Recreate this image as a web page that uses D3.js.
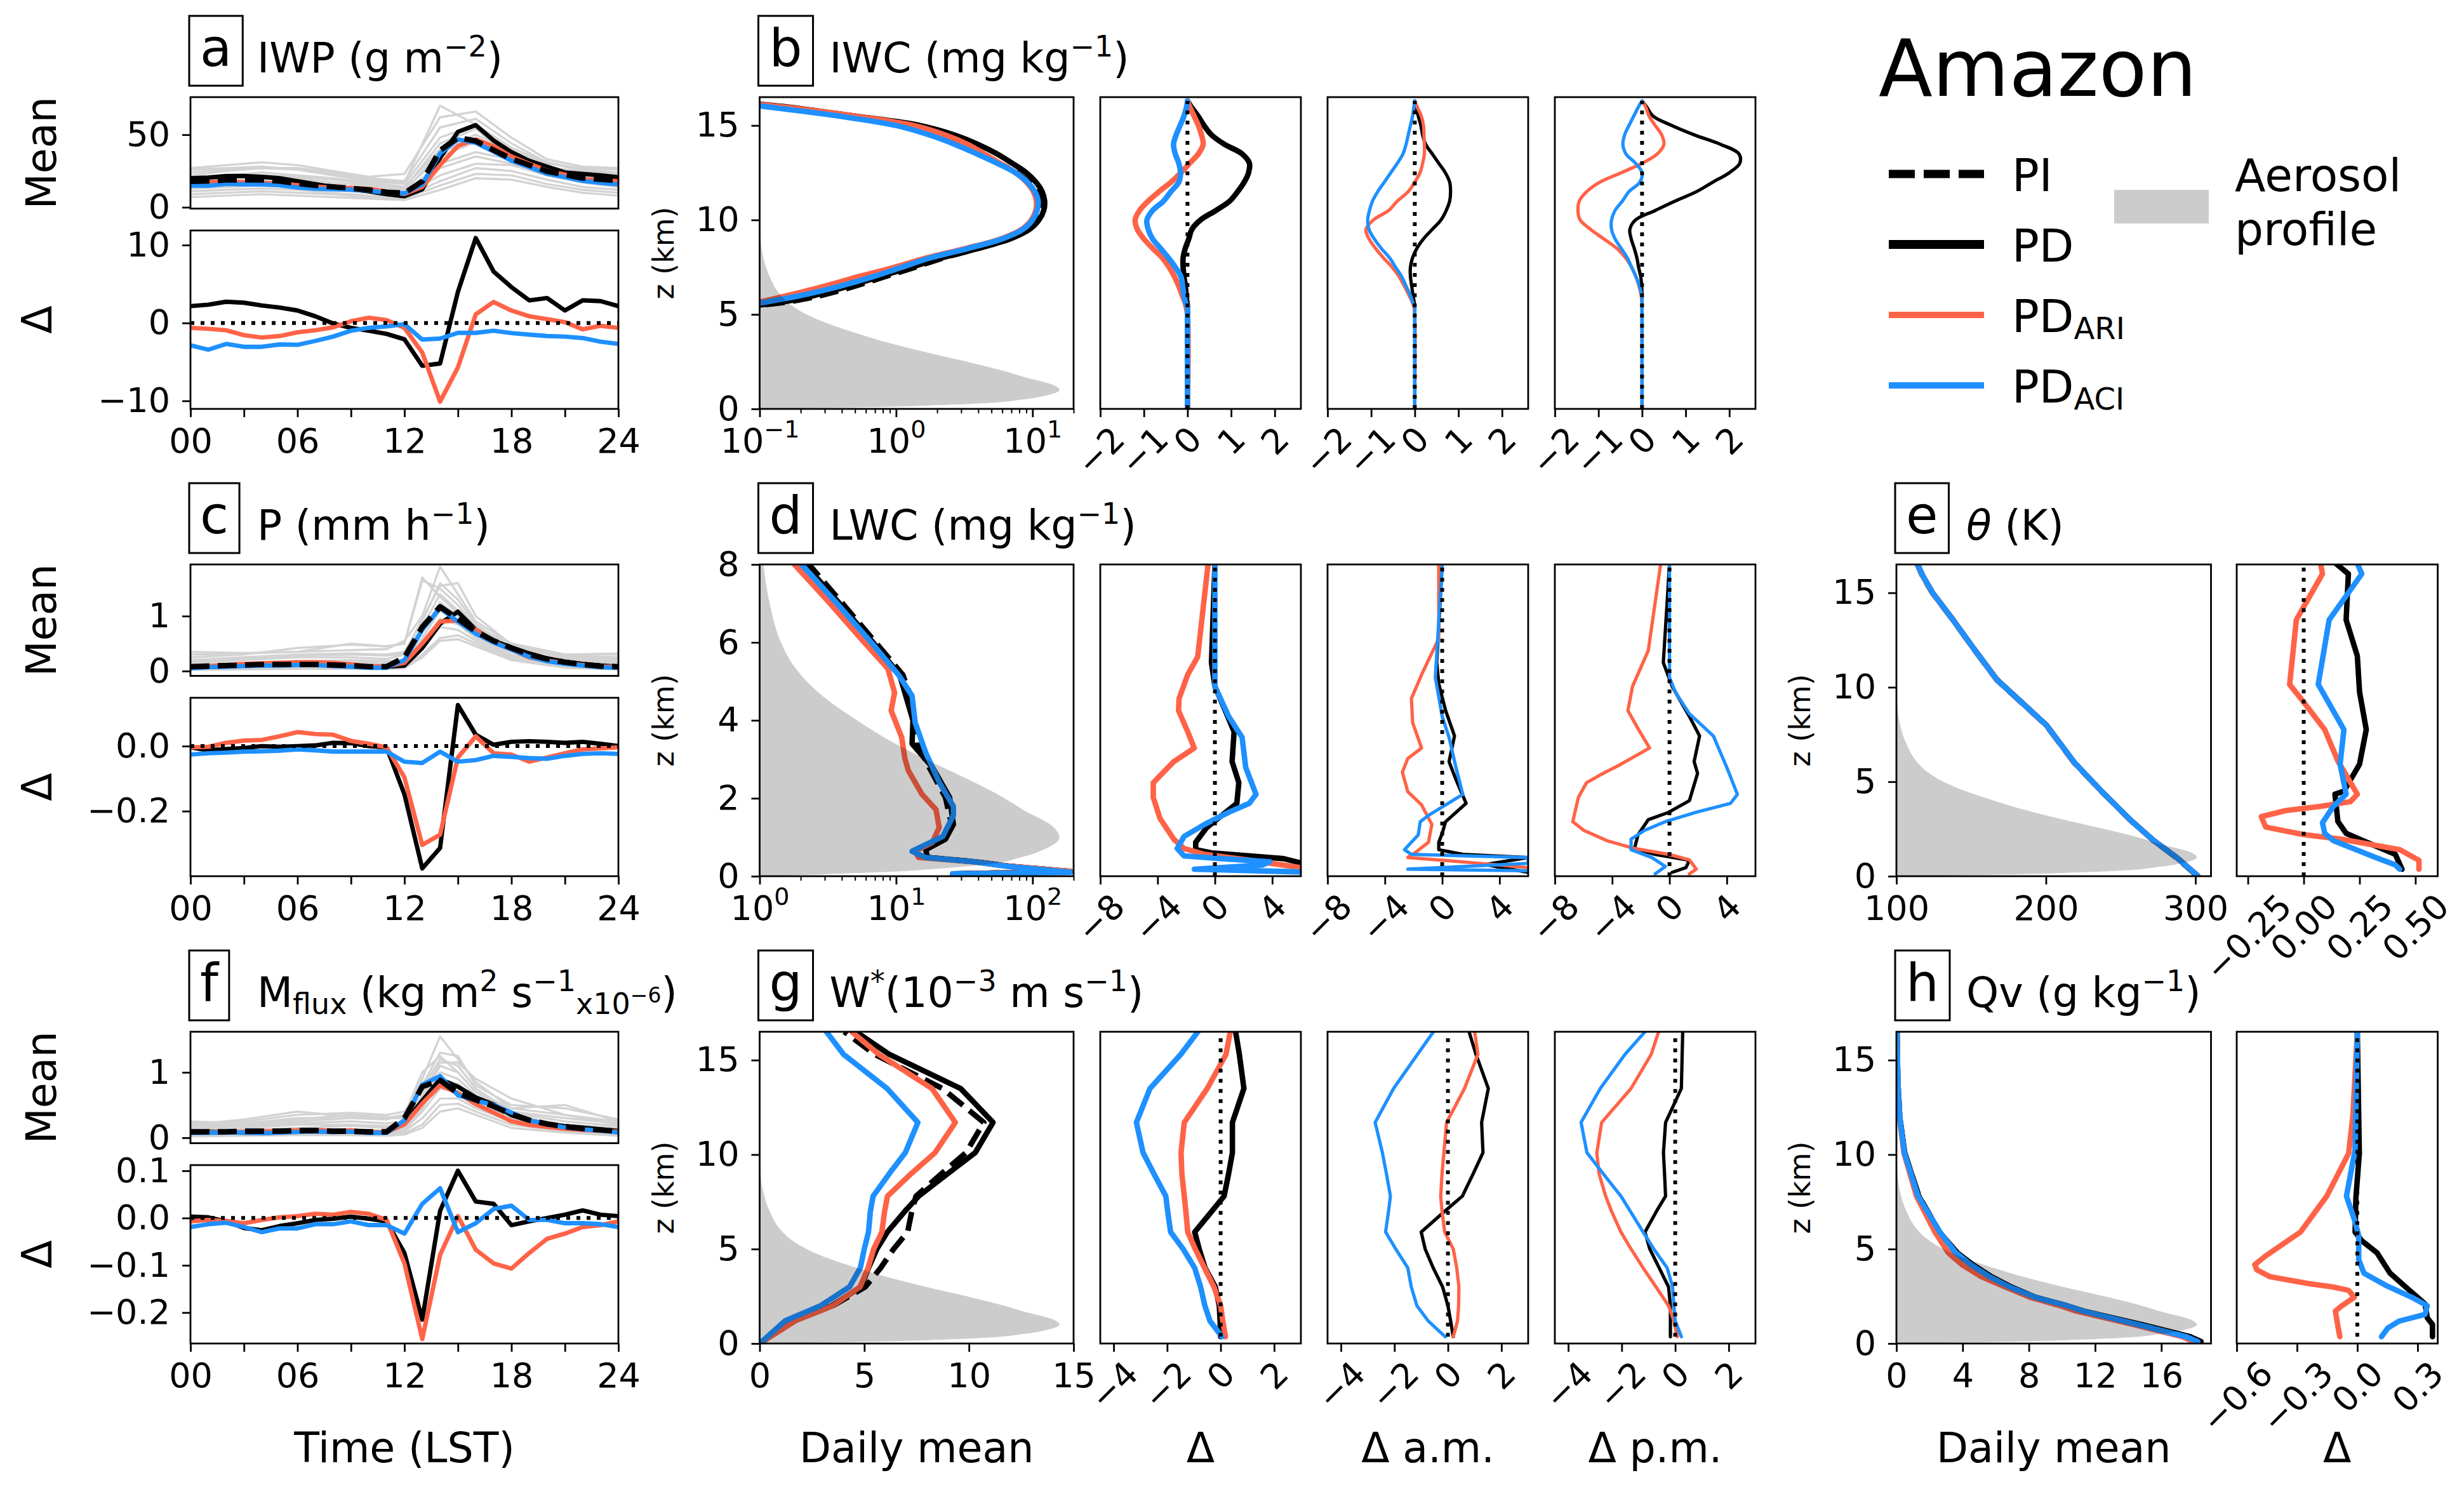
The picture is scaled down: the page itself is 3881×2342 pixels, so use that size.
<!DOCTYPE html>
<html><head><meta charset="utf-8">
<script src="https://cdn.jsdelivr.net/npm/d3@7"></script>
<style>
body{margin:0;background:#fff;}
svg text{font-family:'DejaVu Sans',sans-serif;fill:#000;}
</style></head><body>
<script>
// ---------------- DATA ----------------
const HOURS=[0,1,2,3,4,5,6,7,8,9,10,11,12,13,14,15,16,17,18,19,20,21,22,23,24];
const TIME_TICKS=[0,3,6,9,12,15,18,21,24];
const GREY_HOURS_A=[0,2,4,6,8,10,12,14,16,18,20,22,24];
const GREY_HOURS_CF=[0,3,6,9,11,12,13,14,15,16,18,21,24];

// (a) IWP
const IWP_PI=[17.8,18.2,18.8,18.9,18.8,18.0,16.4,15.1,14.1,13.1,12.0,10.4,9.7,17.9,39.2,48.0,45.7,39.4,33.4,29.1,24.8,22.4,20.1,19.2,18.5];
const IWP_PD=[20,20.5,21.5,21.5,21,20,18,16,14,12.5,11,9,7.6,12.4,34,52,56.6,46,38,32,28,24,23,22,20.7];
const IWP_ARI=[17.2,17.4,17.9,17.3,16.9,16.3,15.2,14.2,13.5,13.3,12.7,10.8,9.1,14.1,29.1,42.3,46.8,42.1,35.0,30.0,25.3,22.5,19.3,18.8,17.9];
const IWP_ACI=[14.9,14.8,16.1,15.8,15.7,15.2,13.6,12.8,12.4,12.1,11.4,10.0,9.6,15.8,37.2,46.7,44.4,38.4,32.1,27.6,23.1,20.7,18.2,16.8,15.8];
const IWP_D_PD=[2.16,2.35,2.72,2.6,2.24,1.98,1.6,0.86,-0.07,-0.63,-1.0,-1.4,-2.1,-5.5,-5.2,4.0,10.9,6.6,4.6,2.9,3.2,1.6,2.9,2.8,2.16];
const IWP_D_ARI=[-0.63,-0.75,-0.93,-1.57,-1.87,-1.68,-1.2,-0.93,-0.56,0.22,0.67,0.37,-0.63,-3.8,-10.1,-5.7,1.1,2.7,1.6,0.86,0.49,0.11,-0.82,-0.37,-0.63];
const IWP_D_ACI=[-2.87,-3.43,-2.69,-3.06,-3.06,-2.76,-2.8,-2.31,-1.75,-1.0,-0.63,-0.45,-0.15,-2.13,-2.0,-1.27,-1.27,-1.0,-1.3,-1.5,-1.68,-1.75,-1.94,-2.4,-2.69];
const IWP_MEMBERS=[
 [27,29,31,29,25,21,23,62,66,48,33,28,27],
 [24,26,27,27,24,20,18,55,61,44,31,26,24],
 [22,25,27,26,22,18,16,48,57,40,30,27,26],
 [21,22,24,22,20,17,14,40,50,39,28,24,22],
 [18,20,21,20,17,15,12,35,45,36,27,22,19],
 [17,18,19,18,15,12,10,30,38,33,28,24,20],
 [15,16,17,16,14,11,9,27,35,30,24,19,16],
 [13,14,15,15,12,10,8,22,30,29,22,17,14],
 [11,12,13,12,10,8,7,18,27,25,19,14,12],
 [9,10,11,10,9,7,6,15,23,22,16,12,10],
 [7,8,9,8,7,6,5,12,20,19,14,10,8],
 [26,27,28,26,23,19,17,70,57,41,31,25,23],
 [19,21,22,21,19,16,13,44,54,34,26,21,18],
 [14,16,18,17,15,13,11,38,47,31,22,18,15]];

// (c) P
const P_PI=[0.08,0.09,0.1,0.11,0.12,0.12,0.12,0.12,0.11,0.1,0.08,0.08,0.25,0.8,1.17,0.95,0.72,0.55,0.42,0.3,0.22,0.16,0.12,0.09,0.08];
const P_PD=[0.08,0.08,0.09,0.1,0.12,0.12,0.12,0.12,0.12,0.11,0.08,0.08,0.1,0.42,0.86,1.08,0.75,0.55,0.43,0.32,0.23,0.17,0.13,0.1,0.08];
const P_ARI=[0.08,0.09,0.11,0.13,0.14,0.15,0.16,0.16,0.15,0.12,0.09,0.08,0.15,0.5,0.9,0.92,0.75,0.53,0.39,0.25,0.19,0.14,0.11,0.08,0.08];
const P_ACI=[0.05,0.07,0.08,0.09,0.1,0.1,0.11,0.11,0.09,0.08,0.06,0.06,0.2,0.75,1.15,0.9,0.68,0.52,0.39,0.26,0.18,0.13,0.1,0.07,0.06];
const P_D_PD=[-0.004,-0.013,-0.009,-0.006,0,-0.002,0,0.002,0.01,0.009,0,-0.004,-0.148,-0.376,-0.313,0.126,0.035,0.004,0.013,0.015,0.013,0.01,0.013,0.007,0];
const P_D_ARI=[-0.004,-0.002,0.01,0.017,0.019,0.03,0.043,0.037,0.035,0.016,0.007,-0.004,-0.096,-0.304,-0.272,-0.035,0.03,-0.022,-0.026,-0.048,-0.035,-0.022,-0.01,-0.007,-0.004];
const P_D_ACI=[-0.026,-0.022,-0.02,-0.017,-0.016,-0.014,-0.01,-0.013,-0.017,-0.017,-0.017,-0.017,-0.048,-0.052,-0.017,-0.048,-0.043,-0.03,-0.033,-0.037,-0.039,-0.03,-0.024,-0.022,-0.024];
const P_MEMBERS=[
 [0.3,0.32,0.35,0.38,0.4,0.55,1.0,1.9,1.4,0.9,0.5,0.3,0.3],
 [0.25,0.3,0.42,0.48,0.45,0.5,1.65,1.5,1.2,0.8,0.45,0.28,0.25],
 [0.2,0.25,0.3,0.32,0.3,0.35,0.9,1.6,1.3,0.85,0.42,0.25,0.22],
 [0.15,0.2,0.25,0.25,0.22,0.3,0.8,1.4,1.1,0.75,0.38,0.2,0.18],
 [0.12,0.15,0.18,0.2,0.18,0.2,0.7,1.25,1.0,0.7,0.35,0.18,0.15],
 [0.1,0.12,0.15,0.16,0.14,0.15,0.6,1.1,0.9,0.65,0.3,0.15,0.12],
 [0.08,0.1,0.12,0.12,0.1,0.12,0.5,0.95,0.85,0.6,0.28,0.12,0.1],
 [0.05,0.07,0.08,0.09,0.08,0.1,0.4,0.8,0.75,0.55,0.25,0.1,0.07],
 [0.03,0.05,0.06,0.06,0.05,0.08,0.3,0.6,0.65,0.5,0.22,0.08,0.05],
 [0.02,0.03,0.04,0.04,0.04,0.05,0.25,0.55,0.58,0.45,0.2,0.06,0.03],
 [0.35,0.33,0.35,0.5,0.45,0.5,1.7,1.35,1.05,0.8,0.5,0.3,0.32],
 [0.18,0.22,0.28,0.3,0.28,0.32,0.95,1.55,1.6,1.0,0.48,0.22,0.2]];

// (f) Mflux
const M_PI=[0.09,0.09,0.09,0.1,0.1,0.1,0.11,0.11,0.1,0.1,0.09,0.09,0.3,0.78,0.88,0.68,0.58,0.48,0.36,0.27,0.21,0.17,0.14,0.12,0.1];
const M_PD=[0.093,0.092,0.083,0.079,0.074,0.083,0.099,0.106,0.099,0.103,0.088,0.083,0.226,0.565,0.895,0.78,0.615,0.51,0.345,0.263,0.21,0.177,0.156,0.127,0.104];
const M_ARI=[0.083,0.086,0.084,0.089,0.096,0.102,0.114,0.119,0.107,0.113,0.086,0.086,0.204,0.524,0.802,0.684,0.513,0.384,0.253,0.196,0.166,0.137,0.121,0.105,0.093];
const M_ACI=[0.071,0.077,0.08,0.081,0.07,0.078,0.088,0.097,0.087,0.093,0.075,0.075,0.267,0.81,0.943,0.65,0.569,0.499,0.386,0.266,0.206,0.159,0.129,0.107,0.081];
const M_D_PD=[0.003,0.0015,-0.007,-0.021,-0.026,-0.017,-0.011,-0.004,-0.0015,0.003,-0.0015,-0.007,-0.074,-0.215,0.015,0.1,0.035,0.03,-0.015,-0.007,0,0.007,0.016,0.007,0.004];
const M_D_ARI=[-0.007,-0.004,-0.006,-0.011,-0.004,0.0015,0.004,0.009,0.007,0.013,0.009,-0.004,-0.096,-0.256,-0.078,0.004,-0.067,-0.096,-0.107,-0.074,-0.044,-0.033,-0.019,-0.015,-0.007];
const M_D_ACI=[-0.019,-0.013,-0.01,-0.019,-0.03,-0.022,-0.022,-0.013,-0.013,-0.007,-0.015,-0.015,-0.033,0.03,0.063,-0.03,-0.011,0.019,0.026,-0.004,-0.004,-0.011,-0.011,-0.013,-0.019];
const M_MEMBERS=[
 [0.25,0.22,0.3,0.3,0.28,0.35,0.9,1.55,1.2,0.85,0.45,0.35,0.25],
 [0.22,0.25,0.35,0.38,0.35,0.4,0.8,1.3,1.25,0.8,0.5,0.45,0.28],
 [0.2,0.28,0.4,0.32,0.3,0.3,0.75,1.2,1.1,0.75,0.4,0.3,0.22],
 [0.15,0.18,0.22,0.25,0.22,0.25,0.6,1.1,1.0,0.7,0.38,0.25,0.18],
 [0.12,0.15,0.2,0.2,0.18,0.2,0.55,1.0,0.9,0.65,0.35,0.2,0.15],
 [0.1,0.12,0.15,0.18,0.15,0.15,0.45,0.9,0.82,0.6,0.3,0.18,0.12],
 [0.08,0.1,0.12,0.12,0.1,0.12,0.4,0.75,0.7,0.55,0.28,0.15,0.1],
 [0.05,0.07,0.08,0.1,0.08,0.1,0.3,0.6,0.6,0.45,0.25,0.12,0.08],
 [0.03,0.05,0.05,0.06,0.05,0.07,0.2,0.5,0.52,0.4,0.2,0.1,0.05],
 [0.02,0.03,0.04,0.04,0.03,0.05,0.15,0.4,0.45,0.35,0.15,0.08,0.03],
 [0.2,0.2,0.25,0.3,0.3,0.35,1.0,1.25,1.0,0.7,0.45,0.5,0.25],
 [0.18,0.2,0.28,0.35,0.32,0.3,0.65,1.15,1.15,0.9,0.6,0.35,0.2]];

// aerosol profile (fraction of panel width)
const AEROSOL_Z=[0,0.05,0.1,0.2,0.3,0.5,0.7,1.0,1.3,1.7,2.0,2.5,3.0,3.5,4.0,4.5,5.0,5.5,6.0,7.0,8.0,9.0,10.0];
const AEROSOL_FRAC=[0,0.2,0.38,0.58,0.72,0.84,0.91,0.955,0.93,0.84,0.78,0.66,0.53,0.41,0.31,0.22,0.15,0.1,0.068,0.032,0.012,0.003,0];

// (b) IWC
const IWC_Z=[5.4,5.6,6.0,6.5,7.0,7.5,8.0,8.5,9.0,9.5,10.0,10.5,11.0,11.5,12.0,12.5,13.0,13.5,14.0,14.5,15.0,15.5,16.0,16.3];
const IWC_PI=[0.07,0.14,0.28,0.5,0.83,1.38,2.24,4.02,6.8,9.4,10.92,11.6,11.55,10.78,9.4,7.65,5.7,4.18,2.98,1.97,1.15,0.45,0.13,0.05];
const IWC_PD=[0.07,0.13,0.25,0.45,0.76,1.29,2.17,4.02,6.84,9.49,11.14,12.08,12.27,11.76,10.6,9.0,7.09,5.48,3.98,2.67,1.5,0.5,0.15,0.05];
const IWC_ARI=[0.04,0.09,0.16,0.3,0.53,0.98,1.69,3.27,5.87,8.32,9.8,10.56,10.67,10.15,9.03,7.5,5.75,4.43,3.34,2.29,1.35,0.5,0.14,0.05];
const IWC_ACI=[0.07,0.1,0.2,0.39,0.68,1.1,1.8,3.4,6.0,8.5,10.0,10.8,11.0,10.4,9.2,7.5,5.5,3.9,2.7,1.75,1.0,0.38,0.11,0.05];
const IWC_DZ=[0,5.0,5.4,5.6,6.0,6.5,7.0,7.5,8.0,8.5,9.0,9.5,10.0,10.5,11.0,11.5,12.0,12.5,13.0,13.5,14.0,14.5,15.0,15.5,16.0,16.3];
const IWC_D_PD=[0,0,0,-0.01,-0.03,-0.05,-0.08,-0.1,-0.1,-0.05,0.03,0.1,0.3,0.65,0.97,1.15,1.3,1.4,1.42,1.25,0.85,0.55,0.38,0.24,0.08,0];
const IWC_D_ARI=[0,0,-0.03,-0.05,-0.12,-0.2,-0.3,-0.42,-0.58,-0.8,-1.0,-1.15,-1.2,-1.1,-0.9,-0.65,-0.38,-0.15,0.05,0.25,0.36,0.32,0.25,0.15,0.05,0];
const IWC_D_ACI=[0,0,0,-0.04,-0.08,-0.11,-0.15,-0.28,-0.44,-0.62,-0.8,-0.9,-0.93,-0.8,-0.55,-0.38,-0.2,-0.16,-0.2,-0.28,-0.32,-0.26,-0.17,-0.08,-0.02,0];
const IWC_AM_PD=[0,0,0,-0.01,-0.04,-0.07,-0.1,-0.1,-0.05,0.05,0.2,0.4,0.6,0.72,0.8,0.82,0.8,0.7,0.55,0.4,0.25,0.18,0.14,0.08,0.03,0];
const IWC_AM_ARI=[0,0,-0.02,-0.05,-0.13,-0.24,-0.36,-0.52,-0.72,-0.9,-1.05,-1.12,-0.95,-0.6,-0.4,-0.15,0.0,0.12,0.18,0.22,0.22,0.21,0.2,0.15,0.05,0];
const IWC_AM_ACI=[0,0,0,-0.04,-0.1,-0.2,-0.3,-0.44,-0.58,-0.77,-0.93,-1.05,-1.08,-1.04,-0.97,-0.85,-0.7,-0.55,-0.4,-0.27,-0.2,-0.15,-0.1,-0.05,-0.02,0];
const IWC_PM_PD=[0,0,0,0,0,-0.01,-0.03,-0.08,-0.12,-0.18,-0.25,-0.28,-0.15,0.3,0.76,1.25,1.62,2.0,2.24,2.22,1.8,1.2,0.68,0.25,0.1,0];
const IWC_PM_ARI=[0,0,0,0,-0.02,-0.07,-0.14,-0.24,-0.38,-0.58,-0.88,-1.18,-1.42,-1.47,-1.44,-1.27,-0.97,-0.48,0.0,0.35,0.5,0.45,0.3,0.16,0.08,0];
const IWC_PM_ACI=[0,0,0,0,-0.01,-0.06,-0.14,-0.24,-0.34,-0.48,-0.62,-0.7,-0.7,-0.62,-0.45,-0.3,-0.05,0.0,-0.15,-0.37,-0.44,-0.4,-0.3,-0.19,-0.08,0];

// (d) LWC  [z (km), value]
const LWC_PI=[[0.06,26],[0.12,190],[0.25,70],[0.37,38],[0.48,17],[0.68,15.5],[0.95,22],[1.33,25.5],[2.02,23],[2.79,17.5],[3.4,14.2],[4.0,13.6],[4.71,12.5],[5.17,11.2],[6.02,7.0],[7.02,4.0],[8.0,2.3]];
const LWC_PD=[[0.06,26],[0.12,190],[0.25,70],[0.37,38],[0.48,17],[0.68,16.5],[0.95,23],[1.33,26.3],[2.02,24.7],[2.79,18.5],[3.4,13.1],[4.0,13.3],[4.71,11.6],[5.17,10.6],[6.02,6.7],[7.02,3.8],[8.0,2.15]];
const LWC_ARI=[[0.06,30],[0.12,190],[0.25,70],[0.37,37],[0.48,14.6],[0.64,13.8],[0.87,18.5],[1.25,20.7],[1.71,19.6],[2.1,15.5],[2.71,12.3],[3.02,11.6],[3.56,11],[4.25,9.2],[4.71,9.75],[5.33,8.7],[6.02,5.78],[7.02,3.24],[8.0,1.8]];
const LWC_ACI=[[0.06,26],[0.1,190],[0.25,66.8],[0.37,37.3],[0.48,16.5],[0.64,13.1],[1.02,22],[1.56,26.3],[1.79,26.3],[2.4,20.8],[3.17,16.5],[3.94,13.8],[4.63,13.1],[5.17,10.4],[6.02,6.5],[7.02,3.64],[8.0,2.03]];
const LWC_D_PD=[[0.1,8],[0.25,7],[0.45,4.8],[0.6,-0.24],[0.68,-1.34],[0.87,-1.34],[1.25,-0.57],[1.56,0.48],[1.87,1.53],[2.4,1.67],[2.94,1.2],[3.71,1.34],[4.25,0.72],[4.87,0],[5.48,-0.24],[8.0,0]];
const LWC_D_ARI=[[0.1,9],[0.22,6],[0.41,2.4],[0.56,-0.72],[0.71,-2.15],[0.95,-2.87],[1.48,-3.83],[2.02,-4.3],[2.4,-4.3],[2.94,-2.87],[3.29,-1.44],[3.71,-1.9],[4.25,-2.54],[4.56,-2.5],[5.17,-1.9],[5.63,-1.2],[8.0,-0.48]];
const LWC_D_ACI=[[0.1,7],[0.18,-1.44],[0.29,3.35],[0.37,3.83],[0.45,0.48],[0.52,-2.15],[0.71,-2.63],[1.02,-2.15],[1.33,-0.72],[1.64,0.96],[1.87,2.4],[2.1,2.87],[2.79,2.15],[3.56,1.9],[4.1,0.96],[4.87,0],[8.0,0]];
const LWC_AM_PD=[[0.1,6],[0.3,3],[0.48,6],[0.56,1.44],[0.68,-0.24],[0.87,-0.24],[1.1,0],[1.4,0.24],[1.87,1.67],[2.48,0.96],[2.94,0.48],[3.6,0.86],[4.25,0.24],[4.94,-0.24],[5.48,-0.38],[8.0,0]];
const LWC_AM_ARI=[[0.1,8],[0.22,6],[0.35,2],[0.48,-2.4],[0.6,-1.9],[0.87,-0.96],[1.33,-0.72],[1.83,-1.44],[2.17,-2.4],[2.67,-2.78],[3.02,-2.4],[3.29,-1.44],[3.94,-2.06],[4.56,-2.15],[5.17,-1.44],[6.1,-0.24],[8.0,-0.24]];
const LWC_AM_ACI=[[0.14,6],[0.18,-2.4],[0.33,6],[0.48,6],[0.56,-2.15],[0.68,-2.63],[0.87,-2.15],[1.06,-1.67],[1.4,-1.53],[1.56,-0.96],[1.83,0.24],[2.1,1.44],[2.79,0.96],[3.56,0.48],[4.1,0],[5.1,-0.48],[8.0,0]];
const LWC_PM_PD=[[0.1,0.19],[0.22,1.15],[0.41,1.39],[0.56,-1.0],[0.71,-2.44],[1.06,-2.2],[1.45,-1.48],[1.64,-0.05],[1.94,1.39],[2.64,1.96],[2.94,1.72],[3.6,2.1],[4.1,1.39],[4.87,0.19],[5.48,-0.43],[8.0,0]];
const LWC_PM_ARI=[[0.06,1.39],[0.18,1.87],[0.42,1.39],[0.56,-0.05],[0.71,-2.44],[0.91,-4.35],[1.18,-6.0],[1.4,-6.75],[2.02,-6.36],[2.4,-5.79],[2.6,-4.83],[2.87,-3.4],[3.29,-1.39],[3.79,-2.2],[4.25,-2.9],[4.87,-2.58],[5.79,-1.48],[8.0,-0.62]];
const LWC_PM_ACI=[[0.06,-1.0],[0.25,-0.29],[0.48,-1.24],[0.68,-2.68],[0.95,-2.68],[1.18,-1.72],[1.4,-0.29],[1.64,1.87],[1.87,4.26],[2.1,4.74],[2.79,4.0],[3.6,3.06],[4.17,1.39],[4.71,0.43],[5.1,0],[8.0,0]];

// (e) theta
const TH_Z=[0.03,1.0,1.88,3.0,4.5,6.0,8.0,10.4,12.0,13.57,15.0,15.96,16.56];
const TH_PI=[301,287,272,256,237,219,200,167,152,137.7,124,117,113.7];
const TH_PD=[301.4,287.3,272.2,256.2,237.2,219.2,200.3,167.3,152.2,137.9,124.2,117.2,113.9];
const TH_ARI=[301.5,287.4,272.1,255.9,237.2,219.1,200.1,167,152,137.7,124.1,117.1,113.8];
const TH_ACI=[301.4,287.3,272.1,256.1,237.2,219.2,200.2,167.1,152.1,137.8,124.2,117.2,113.9];
const TH_D_PD=[[0.37,0.44],[1.16,0.41],[1.96,0.25],[2.27,0.19],[2.9,0.153],[4.34,0.14],[4.5,0.18],[5.93,0.25],[7.76,0.28],[9.75,0.25],[11.66,0.24],[13.57,0.19],[16.0,0.2],[16.56,0.143]];
const TH_D_ARI=[[0.37,0.516],[0.84,0.516],[1.4,0.43],[1.96,0.17],[2.2,0],[2.6,-0.17],[3.15,-0.19],[3.47,-0.082],[3.7,0.075],[3.95,0.21],[4.34,0.24],[6.1,0.153],[7.76,0.094],[9.27,-0.004],[10.15,-0.063],[13.57,-0.033],[16.0,0.084],[16.56,0.075]];
const TH_D_ACI=[[0.37,0.43],[0.6,0.41],[1.0,0.32],[1.88,0.133],[2.27,0.094],[2.83,0.084],[3.7,0.133],[4.34,0.19],[5.93,0.163],[7.76,0.18],[10.15,0.065],[13.57,0.114],[16.0,0.26],[16.56,0.24]];

// (g) W*
const W_Z=[0,1.2,2.0,3.0,4.0,5.0,5.9,7.0,7.8,9.0,10.1,11.7,13.5,15.3,16.5];
const W_PI=[0,1.62,3.5,5.05,5.78,6.4,7.07,7.27,7.47,8.7,9.86,10.71,8.73,5.5,4.04];
const W_PD=[0,1.6,3.45,4.85,5.2,5.6,6.1,6.94,7.6,9.0,10.3,11.15,9.6,6.2,4.6];
const W_ARI=[0,1.7,3.5,4.8,5.18,5.45,5.84,5.97,6.11,7.25,8.38,9.35,8.23,5.7,4.4];
const W_ACI=[0,1.22,2.91,4.3,4.81,5.0,5.2,5.29,5.42,6.2,6.96,7.56,6.09,4.01,3.19];
const W_DZ=[0.36,1.2,2.0,3.0,4.0,5.0,5.9,7.0,7.8,9.0,10.1,11.7,13.5,15.3,16.5];
const W_D_PD=[0,-0.02,-0.05,-0.2,-0.58,-0.8,-0.97,-0.33,0.13,0.3,0.44,0.44,0.87,0.7,0.56];
const W_D_ARI=[0.18,0.08,0.0,-0.25,-0.6,-0.95,-1.23,-1.3,-1.36,-1.45,-1.48,-1.36,-0.5,0.2,0.36];
const W_D_ACI=[0.05,-0.4,-0.59,-0.75,-0.97,-1.4,-1.87,-1.98,-2.05,-2.5,-2.9,-3.15,-2.64,-1.49,-0.85];
const W_AM_PD=[0.2,0.1,0.0,-0.2,-0.55,-0.85,-1.0,-0.12,0.54,0.95,1.31,1.26,1.51,1.05,0.79];
const W_AM_ARI=[0.2,0.36,0.4,0.41,0.33,0.2,-0.12,-0.22,-0.27,-0.22,-0.15,-0.05,0.62,1.12,1.0];
const W_AM_ACI=[-0.1,-0.74,-1.16,-1.37,-1.5,-1.95,-2.33,-2.22,-2.15,-2.3,-2.45,-2.72,-2.03,-1.14,-0.54];
const W_PM_PD=[-0.18,-0.18,-0.18,-0.25,-0.6,-0.95,-1.13,-0.7,-0.36,-0.4,-0.44,-0.36,0.23,0.26,0.28];
const W_PM_ARI=[0.08,-0.05,-0.25,-0.72,-1.2,-1.65,-2.03,-2.38,-2.6,-2.85,-2.93,-2.75,-1.65,-0.9,-0.62];
const W_PM_ACI=[0.23,0.0,-0.05,-0.1,-0.3,-0.8,-1.2,-1.68,-2.03,-2.7,-3.3,-3.52,-2.8,-1.88,-1.13];

// (h) Qv
const QV_Z=[0.1,0.36,1.0,1.72,2.0,2.45,2.99,3.54,4.17,4.8,5.9,7.8,10.1,12.0,14.0,16.5];
const QV_PI=[18.0,17.38,14.45,10.96,9.96,8.1,6.7,5.55,4.48,3.58,2.61,1.36,0.49,0.2,0.08,0.04];
const QV_PD=[18.4,17.75,14.82,11.3,10.3,8.4,6.95,5.73,4.62,3.68,2.6,1.35,0.5,0.2,0.08,0.04];
const QV_ARI=[17.9,17.29,14.35,10.85,9.88,8.08,6.58,5.12,3.97,3.14,2.33,1.21,0.45,0.18,0.07,0.04];
const QV_ACI=[18.2,17.5,14.61,11.26,10.31,8.37,6.85,5.61,4.5,3.59,2.62,1.31,0.48,0.2,0.08,0.04];
const QV_D_PD=[[0.36,0.374],[1.0,0.374],[1.36,0.348],[2.09,0.337],[2.81,0.26],[3.72,0.163],[4.8,0.098],[5.44,0.022],[5.9,-0.011],[7.71,-0.007],[10.07,0.01],[16.49,0]];
const QV_D_ARI=[[0.36,-0.087],[1.0,-0.098],[1.72,-0.109],[2.0,-0.076],[2.45,-0.015],[2.81,-0.043],[2.99,-0.12],[3.17,-0.24],[3.54,-0.435],[3.9,-0.5],[4.17,-0.51],[4.63,-0.457],[5.9,-0.283],[7.8,-0.152],[10.07,-0.043],[12.06,-0.022],[16.49,0]];
const QV_D_ACI=[[0.36,0.12],[0.82,0.152],[1.18,0.207],[1.54,0.337],[2.0,0.348],[2.45,0.27],[3.08,0.141],[3.72,0.033],[4.44,0.007],[5.71,0.007],[6.44,-0.011],[7.8,-0.054],[10.25,-0.011],[16.49,0]];

// ---------------- DRAWING ----------------
const W=3881,H=2342;
const RED='#ff6347',BLUE='#1e90ff',BLACK='#000',GREY='#d3d3d3';
const FS_TICK=54,FS_LAB=65,FS_Z=46;
const LW_THICK=8.6,LW_THIN=5.2,LW_TS=6.9;
const DASH='30,13',DOT='6,10';
const TX0=300,TX1=974;
const PX=[[1196.5,1691],[1733,2049],[2091,2407],[2449,2765]];
const RX=[[2987,3482.5],[3523,3839.6]];
const ROWS=[153,889,1625];
const PH=491,TOPH=175.5,BOT0=210,BOTH=281;

const svg=d3.select('body').append('svg').attr('width',W).attr('height',H).attr('viewBox',`0 0 ${W} ${H}`);
svg.append('rect').attr('width',W).attr('height',H).attr('fill','#fff');
let clipN=0;
function panel(x0,y0,w,h){
  const id='clip'+(clipN++);
  svg.append('clipPath').attr('id',id).append('rect').attr('x',x0).attr('y',y0).attr('width',w).attr('height',h);
  const g=svg.append('g');
  const inner=g.append('g').attr('clip-path',`url(#${id})`);
  return {g,inner,x0,y0,w,h};
}
function spine(p){p.g.append('rect').attr('x',p.x0).attr('y',p.y0).attr('width',p.w).attr('height',p.h).attr('fill','none').attr('stroke','#000').attr('stroke-width',2.8);}
function path(p,pts,color,w,dash,curve){
  p.inner.append('path').attr('d',d3.line().curve(curve||d3.curveLinear)(pts)).attr('fill','none')
   .attr('stroke',color).attr('stroke-width',w).attr('stroke-dasharray',dash||null)
   .attr('stroke-linejoin','round').attr('stroke-linecap',dash?'butt':'round');
}
function styleAxis(g,fs){
  g.attr('font-family',null).attr('font-size',null);
  g.select('.domain').remove();
  g.selectAll('.tick line').attr('stroke','#000').attr('stroke-width',2.8);
  g.selectAll('.tick text').attr('font-size',fs||FS_TICK).attr('fill','#000');
}
function yAxis(p,scale,ticks,fmt){
  const a=d3.axisLeft(scale).tickValues(ticks).tickFormat(fmt).tickSize(13).tickPadding(19);
  const g=p.g.append('g').attr('transform',`translate(${p.x0},0)`).call(a);styleAxis(g);return g;
}
function xAxis(p,scale,ticks,fmt,rotate){
  const a=d3.axisBottom(scale).tickValues(ticks).tickFormat(fmt).tickSize(13).tickPadding(18);
  const g=p.g.append('g').attr('transform',`translate(0,${p.y0+p.h})`).call(a);styleAxis(g);
  if(rotate){
    g.selectAll('.tick text').each(function(){
      const t=d3.select(this);
      t.attr('y',0).attr('dy',null).attr('text-anchor','middle').attr('dominant-baseline','central');
      const w=this.getComputedTextLength();
      const Hh=(w+1.16*FS_TICK)/Math.SQRT2;
      t.attr('transform',`translate(0,${16+Hh/2}) rotate(-45)`);
    });
  }
  return g;
}
function minorAxis(p,scale,ticks){
  const a=d3.axisBottom(scale).tickValues(ticks).tickFormat('').tickSize(7);
  const g=p.g.append('g').attr('transform',`translate(0,${p.y0+p.h})`).call(a);
  g.select('.domain').remove();g.selectAll('.tick line').attr('stroke','#000').attr('stroke-width',2);
}
function logLabels(g){
  g.selectAll('.tick text').each(function(d){
    const t=d3.select(this);const e=Math.round(Math.log10(d));
    t.text(null);t.append('tspan').text('10');
    t.append('tspan').attr('dy',-24).attr('font-size',38).text(e<0?'\u2212'+(-e):String(e));
  });
}
const minus=s=>s.replace('-','\u2212');
const fInt=d=>minus(d3.format('d')(d));
const f1=d=>minus(d3.format('.1f')(d));
const f2=d=>minus(d3.format('.2f')(d));
const fHour=d=>(d%6===0?String(d).padStart(2,'0'):'');

function title(x,y,segs){
  const t=svg.append('text').attr('x',x).attr('y',y).attr('font-size',FS_LAB);
  let cur=0;
  segs.forEach(([s,type])=>{
    let shift=0,fs=FS_LAB;
    if(type==='sup'){shift=-25;fs=46;}
    else if(type==='sub'){shift=11;fs=46;}
    else if(type==='subsup'){shift=-7;fs=33;}
    const ts=t.append('tspan').attr('dy',shift-cur).attr('font-size',fs).text(s);
    if(type==='it') ts.attr('font-style','italic');
    cur=shift;
  });
}
function letter(x,R,l){
  const top=R-128;
  const t=svg.append('text').attr('x',x+17).attr('y',top+79).attr('font-size',82).text(l);
  const w=t.node().getComputedTextLength();
  svg.append('rect').attr('x',x).attr('y',top).attr('width',w+34).attr('height',110).attr('fill','none').attr('stroke','#000').attr('stroke-width',3);
}
function vlabel(x,y,txt,fs){
  svg.append('text').attr('transform',`translate(${x},${y}) rotate(-90)`).attr('text-anchor','middle').attr('font-size',fs).text(txt);
}
function hlabel(x,y,txt){svg.append('text').attr('x',x).attr('y',y).attr('text-anchor','middle').attr('font-size',FS_LAB).text(txt);}

// ---------- time series rows ----------
function timeRow(R,cfg){
  const x=d3.scaleLinear().domain([0,24]).range([TX0,TX1]);
  const pt=panel(TX0,R,TX1-TX0,TOPH);
  const yt=d3.scaleLinear().domain(cfg.topDom).range([R+TOPH,R]);
  cfg.members.forEach(m=>path(pt,m.map((v,i)=>[x(cfg.mHours[i]),yt(v)]),GREY,3.4));
  const ser=(arr,y)=>arr.map((v,i)=>[x(HOURS[i]),y(v)]);
  path(pt,ser(cfg.pd,yt),BLACK,LW_TS);
  path(pt,ser(cfg.ari,yt),RED,LW_TS);
  path(pt,ser(cfg.aci,yt),BLUE,LW_TS);
  path(pt,ser(cfg.pi,yt),BLACK,LW_THICK,DASH);
  yAxis(pt,yt,cfg.topTicks,fInt);spine(pt);
  const pb=panel(TX0,R+BOT0,TX1-TX0,BOTH);
  const yb=d3.scaleLinear().domain(cfg.botDom).range([R+BOT0+BOTH,R+BOT0]);
  path(pb,ser(cfg.dpd,yb),BLACK,LW_TS);
  path(pb,ser(cfg.dari,yb),RED,LW_TS);
  path(pb,ser(cfg.daci,yb),BLUE,LW_TS);
  path(pb,[[x(0),yb(0)],[x(24),yb(0)]],BLACK,6,DOT);
  yAxis(pb,yb,cfg.botTicks,cfg.botFmt);
  xAxis(pb,x,TIME_TICKS,fHour);spine(pb);
  vlabel(88,R+TOPH/2,'Mean',FS_LAB);
  vlabel(81,R+BOT0+BOTH/2,'\u0394',FS_LAB);
}
timeRow(ROWS[0],{topDom:[-0.9,75.9],botDom:[-11.03,11.87],members:IWP_MEMBERS,mHours:GREY_HOURS_A,
  pi:IWP_PI,pd:IWP_PD,ari:IWP_ARI,aci:IWP_ACI,dpd:IWP_D_PD,dari:IWP_D_ARI,daci:IWP_D_ACI,
  topTicks:[0,50],botTicks:[-10,0,10],botFmt:fInt});
timeRow(ROWS[1],{topDom:[-0.088,1.94],botDom:[-0.4,0.1485],members:P_MEMBERS,mHours:GREY_HOURS_CF,
  pi:P_PI,pd:P_PD,ari:P_ARI,aci:P_ACI,dpd:P_D_PD,dari:P_D_ARI,daci:P_D_ACI,
  topTicks:[0,1],botTicks:[-0.2,0.0],botFmt:f1});
timeRow(ROWS[2],{topDom:[-0.083,1.62],botDom:[-0.2655,0.112],members:M_MEMBERS,mHours:GREY_HOURS_CF,
  pi:M_PI,pd:M_PD,ari:M_ARI,aci:M_ACI,dpd:M_D_PD,dari:M_D_ARI,daci:M_D_ACI,
  topTicks:[0,1],botTicks:[-0.2,-0.1,0.0,0.1],botFmt:f1});

// ---------- profile helpers ----------
function aerosol(p,ys){
  const area=d3.area().y((d,i)=>ys(AEROSOL_Z[i])).x0(p.x0).x1(d=>p.x0+d*p.w).curve(d3.curveMonotoneY);
  p.inner.append('path').datum(AEROSOL_FRAC).attr('d',area).attr('fill','#000').attr('fill-opacity',0.2);
}
function mainProfile(px,R,xs,ys,series,curve){
  const p=panel(px[0],R,px[1]-px[0],PH);
  // series: [{z,v,color,dash}]
  series.forEach(s=>path(p,s.z.map((z,i)=>[xs(s.v[i]),ys(z)]),s.color,LW_THICK,s.dash,curve));
  aerosol(p,ys);
  return p;
}
function diffProfile(px,R,xs,ys,series,lw,zr,curve){
  const p=panel(px[0],R,px[1]-px[0],PH);
  series.forEach(s=>{
    const pts=s.pairs?s.pairs.map(d=>[xs(d[1]),ys(d[0])]):s.z.map((z,i)=>[xs(s.v[i]),ys(z)]);
    path(p,pts,s.color,lw,null,curve);
  });
  path(p,[[xs(0),ys(zr[0])],[xs(0),ys(zr[1])]],BLACK,6,DOT);
  spine(p);
  return p;
}
const cm=d3.curveCatmullRom.alpha(0.5);

// ---------- row 1 : IWC ----------
{
  const R=ROWS[0];
  const ys=d3.scaleLinear().domain([0,16.5]).range([R+PH,R]);
  const xs=d3.scaleLog().domain([0.1,20]).range(PX[0]);
  const p=mainProfile(PX[0],R,xs,ys,[
    {z:IWC_Z,v:IWC_PI,color:BLACK,dash:DASH},{z:IWC_Z,v:IWC_PD,color:BLACK},
    {z:IWC_Z,v:IWC_ARI,color:RED},{z:IWC_Z,v:IWC_ACI,color:BLUE}],cm);
  spine(p);
  yAxis(p,ys,[0,5,10,15],fInt);
  logLabels(xAxis(p,xs,[0.1,1,10],d=>'x'));
  minorAxis(p,xs,[0.2,0.3,0.4,0.5,0.6,0.7,0.8,0.9,2,3,4,5,6,7,8,9,20]);
  vlabel(PX[0][0]-136,R+PH/2,'z (km)',FS_Z);
  const sets=[[IWC_D_PD,IWC_D_ARI,IWC_D_ACI,LW_THICK],[IWC_AM_PD,IWC_AM_ARI,IWC_AM_ACI,LW_THIN],[IWC_PM_PD,IWC_PM_ARI,IWC_PM_ACI,LW_THIN]];
  sets.forEach((s,k)=>{
    const xd=d3.scaleLinear().domain([-2,2.6]).range(PX[k+1]);
    const dp=diffProfile(PX[k+1],R,xd,ys,[{z:IWC_DZ,v:s[0],color:BLACK},{z:IWC_DZ,v:s[1],color:RED},{z:IWC_DZ,v:s[2],color:BLUE}],s[3],[0,16.3],cm);
    xAxis(dp,xd,[-2,-1,0,1,2],fInt,true);
  });
  letter(PX[0][0]-2,R,'b');
  title(PX[0][0]+110,R-39,[['IWC (mg kg'],['\u22121','sup'],[')']]);
}
// ---------- row 2 : LWC ----------
{
  const R=ROWS[1];
  const ys=d3.scaleLinear().domain([0,8]).range([R+PH,R]);
  const xs=d3.scaleLog().domain([1,200]).range(PX[0]);
  const pr=(a)=>({z:a.map(d=>d[0]),v:a.map(d=>d[1])});
  const p=mainProfile(PX[0],R,xs,ys,[
    {...pr(LWC_PI),color:BLACK,dash:DASH},{...pr(LWC_PD),color:BLACK},
    {...pr(LWC_ARI),color:RED},{...pr(LWC_ACI),color:BLUE}]);
  spine(p);
  yAxis(p,ys,[0,2,4,6,8],fInt);
  logLabels(xAxis(p,xs,[1,10,100],d=>'x'));
  minorAxis(p,xs,[2,3,4,5,6,7,8,9,20,30,40,50,60,70,80,90,200]);
  vlabel(PX[0][0]-136,R+PH/2,'z (km)',FS_Z);
  const sets=[[LWC_D_PD,LWC_D_ARI,LWC_D_ACI,LW_THICK],[LWC_AM_PD,LWC_AM_ARI,LWC_AM_ACI,LW_THIN],[LWC_PM_PD,LWC_PM_ARI,LWC_PM_ACI,LW_THIN]];
  sets.forEach((s,k)=>{
    const xd=d3.scaleLinear().domain([-8,6]).range(PX[k+1]);
    const dp=diffProfile(PX[k+1],R,xd,ys,[{pairs:s[0],color:BLACK},{pairs:s[1],color:RED},{pairs:s[2],color:BLUE}],s[3],[0,8]);
    xAxis(dp,xd,[-8,-4,0,4],fInt,true);
  });
  letter(PX[0][0]-2,R,'d');
  title(PX[0][0]+110,R-39,[['LWC (mg kg'],['\u22121','sup'],[')']]);

  // theta (e)
  const xe=d3.scaleLinear().domain([100,310.4]).range(RX[0]);
  const ye=d3.scaleLinear().domain([0,16.5]).range([R+PH,R]);
  const pe=mainProfile(RX[0],R,xe,ye,[
    {z:TH_Z,v:TH_PI,color:BLACK,dash:DASH},{z:TH_Z,v:TH_PD,color:BLACK},
    {z:TH_Z,v:TH_ARI,color:RED},{z:TH_Z,v:TH_ACI,color:BLUE}]);
  spine(pe);
  yAxis(pe,ye,[0,5,10,15],fInt);
  xAxis(pe,xe,[100,200,300],fInt);
  vlabel(RX[0][0]-136,R+PH/2,'z (km)',FS_Z);
  const xed=d3.scaleLinear().domain([-0.3,0.6]).range(RX[1]);
  const ped=diffProfile(RX[1],R,xed,ye,[{pairs:TH_D_PD,color:BLACK},{pairs:TH_D_ARI,color:RED},{pairs:TH_D_ACI,color:BLUE}],LW_THICK,[0,16.5]);
  xAxis(ped,xed,[-0.25,0,0.25,0.5],f2,true);
  letter(RX[0][0]-2,R,'e');
  title(RX[0][0]+110,R-39,[['\u03b8','it'],[' (K)']]);
}
// ---------- row 3 : W* & Qv ----------
{
  const R=ROWS[2];
  const ys=d3.scaleLinear().domain([0,16.5]).range([R+PH,R]);
  const xs=d3.scaleLinear().domain([0,15]).range(PX[0]);
  const p=mainProfile(PX[0],R,xs,ys,[
    {z:W_Z,v:W_PI,color:BLACK,dash:DASH},{z:W_Z,v:W_PD,color:BLACK},
    {z:W_Z,v:W_ARI,color:RED},{z:W_Z,v:W_ACI,color:BLUE}]);
  spine(p);
  yAxis(p,ys,[0,5,10,15],fInt);
  xAxis(p,xs,[0,5,10,15],fInt);
  vlabel(PX[0][0]-136,R+PH/2,'z (km)',FS_Z);
  const sets=[[W_D_PD,W_D_ARI,W_D_ACI,LW_THICK],[W_AM_PD,W_AM_ARI,W_AM_ACI,LW_THIN],[W_PM_PD,W_PM_ARI,W_PM_ACI,LW_THIN]];
  sets.forEach((s,k)=>{
    const xd=d3.scaleLinear().domain([-4.5,3]).range(PX[k+1]);
    const dp=diffProfile(PX[k+1],R,xd,ys,[{z:W_DZ,v:s[0],color:BLACK},{z:W_DZ,v:s[1],color:RED},{z:W_DZ,v:s[2],color:BLUE}],s[3],[0.36,16.5]);
    xAxis(dp,xd,[-4,-2,0,2],fInt,true);
  });
  letter(PX[0][0]-2,R,'g');
  title(PX[0][0]+110,R-39,[['W'],['*','sup'],['(10'],['\u22123','sup'],[' m s'],['\u22121','sup'],[')']]);

  const xh=d3.scaleLinear().domain([0,19]).range(RX[0]);
  const ph=mainProfile(RX[0],R,xh,ys,[
    {z:QV_Z,v:QV_PI,color:BLACK,dash:DASH},{z:QV_Z,v:QV_PD,color:BLACK},
    {z:QV_Z,v:QV_ARI,color:RED},{z:QV_Z,v:QV_ACI,color:BLUE}]);
  spine(ph);
  yAxis(ph,ys,[0,5,10,15],fInt);
  xAxis(ph,xh,[0,4,8,12,16],fInt);
  vlabel(RX[0][0]-136,R+PH/2,'z (km)',FS_Z);
  const xhd=d3.scaleLinear().domain([-0.6,0.4]).range(RX[1]);
  const phd=diffProfile(RX[1],R,xhd,ys,[{pairs:QV_D_PD,color:BLACK},{pairs:QV_D_ARI,color:RED},{pairs:QV_D_ACI,color:BLUE}],LW_THICK,[0.36,16.5]);
  xAxis(phd,xhd,[-0.6,-0.3,0,0.3],f1,true);
  letter(RX[0][0]-2,R,'h');
  title(RX[0][0]+110,R-39,[['Qv (g kg'],['\u22121','sup'],[')']]);

  // x labels
  const yl=2303;
  hlabel((TX0+TX1)/2,yl,'Time (LST)');
  hlabel((PX[0][0]+PX[0][1])/2,yl,'Daily mean');
  hlabel((PX[1][0]+PX[1][1])/2,yl,'\u0394');
  hlabel((PX[2][0]+PX[2][1])/2,yl,'\u0394 a.m.');
  hlabel((PX[3][0]+PX[3][1])/2,yl,'\u0394 p.m.');
  hlabel((RX[0][0]+RX[0][1])/2,yl,'Daily mean');
  hlabel((RX[1][0]+RX[1][1])/2,yl,'\u0394');
}
// time-series titles
letter(TX0-2,ROWS[0],'a');
title(TX0+105,ROWS[0]-39,[['IWP (g m'],['\u22122','sup'],[')']]);
letter(TX0-2,ROWS[1],'c');
title(TX0+105,ROWS[1]-39,[['P (mm h'],['\u22121','sup'],[')']]);
letter(TX0-2,ROWS[2],'f');
title(TX0+105,ROWS[2]-39,[['M'],['flux','sub'],[' (kg m'],['2','sup'],[' s'],['\u22121','sup'],['x10','sub'],['\u22126','subsup'],[')']]);

// ---------- legend ----------
svg.append('text').attr('x',2959).attr('y',151).attr('font-size',124).text('Amazon');
const LEG=[{y:274,color:BLACK,w:13,dash:'41,14',label:'PI'},{y:385,color:BLACK,w:13.8,label:'PD'},
  {y:496,color:RED,w:10,label:'PD',sub:'ARI'},{y:607,color:BLUE,w:10,label:'PD',sub:'ACI'}];
LEG.forEach(l=>{
  svg.append('line').attr('x1',2975).attr('x2',3125).attr('y1',l.y).attr('y2',l.y).attr('stroke',l.color).attr('stroke-width',l.w).attr('stroke-dasharray',l.dash||null);
  const t=svg.append('text').attr('x',3169).attr('y',l.y+27).attr('font-size',71).text(l.label);
  if(l.sub) t.append('tspan').attr('dy',11).attr('font-size',48).text(l.sub);
});
svg.append('rect').attr('x',3330).attr('y',299).attr('width',149).attr('height',53).attr('fill','#000').attr('fill-opacity',0.2);
svg.append('text').attr('x',3520).attr('y',301).attr('font-size',71).text('Aerosol');
svg.append('text').attr('x',3520).attr('y',386).attr('font-size',71).text('profile');
</script>
</body></html>
